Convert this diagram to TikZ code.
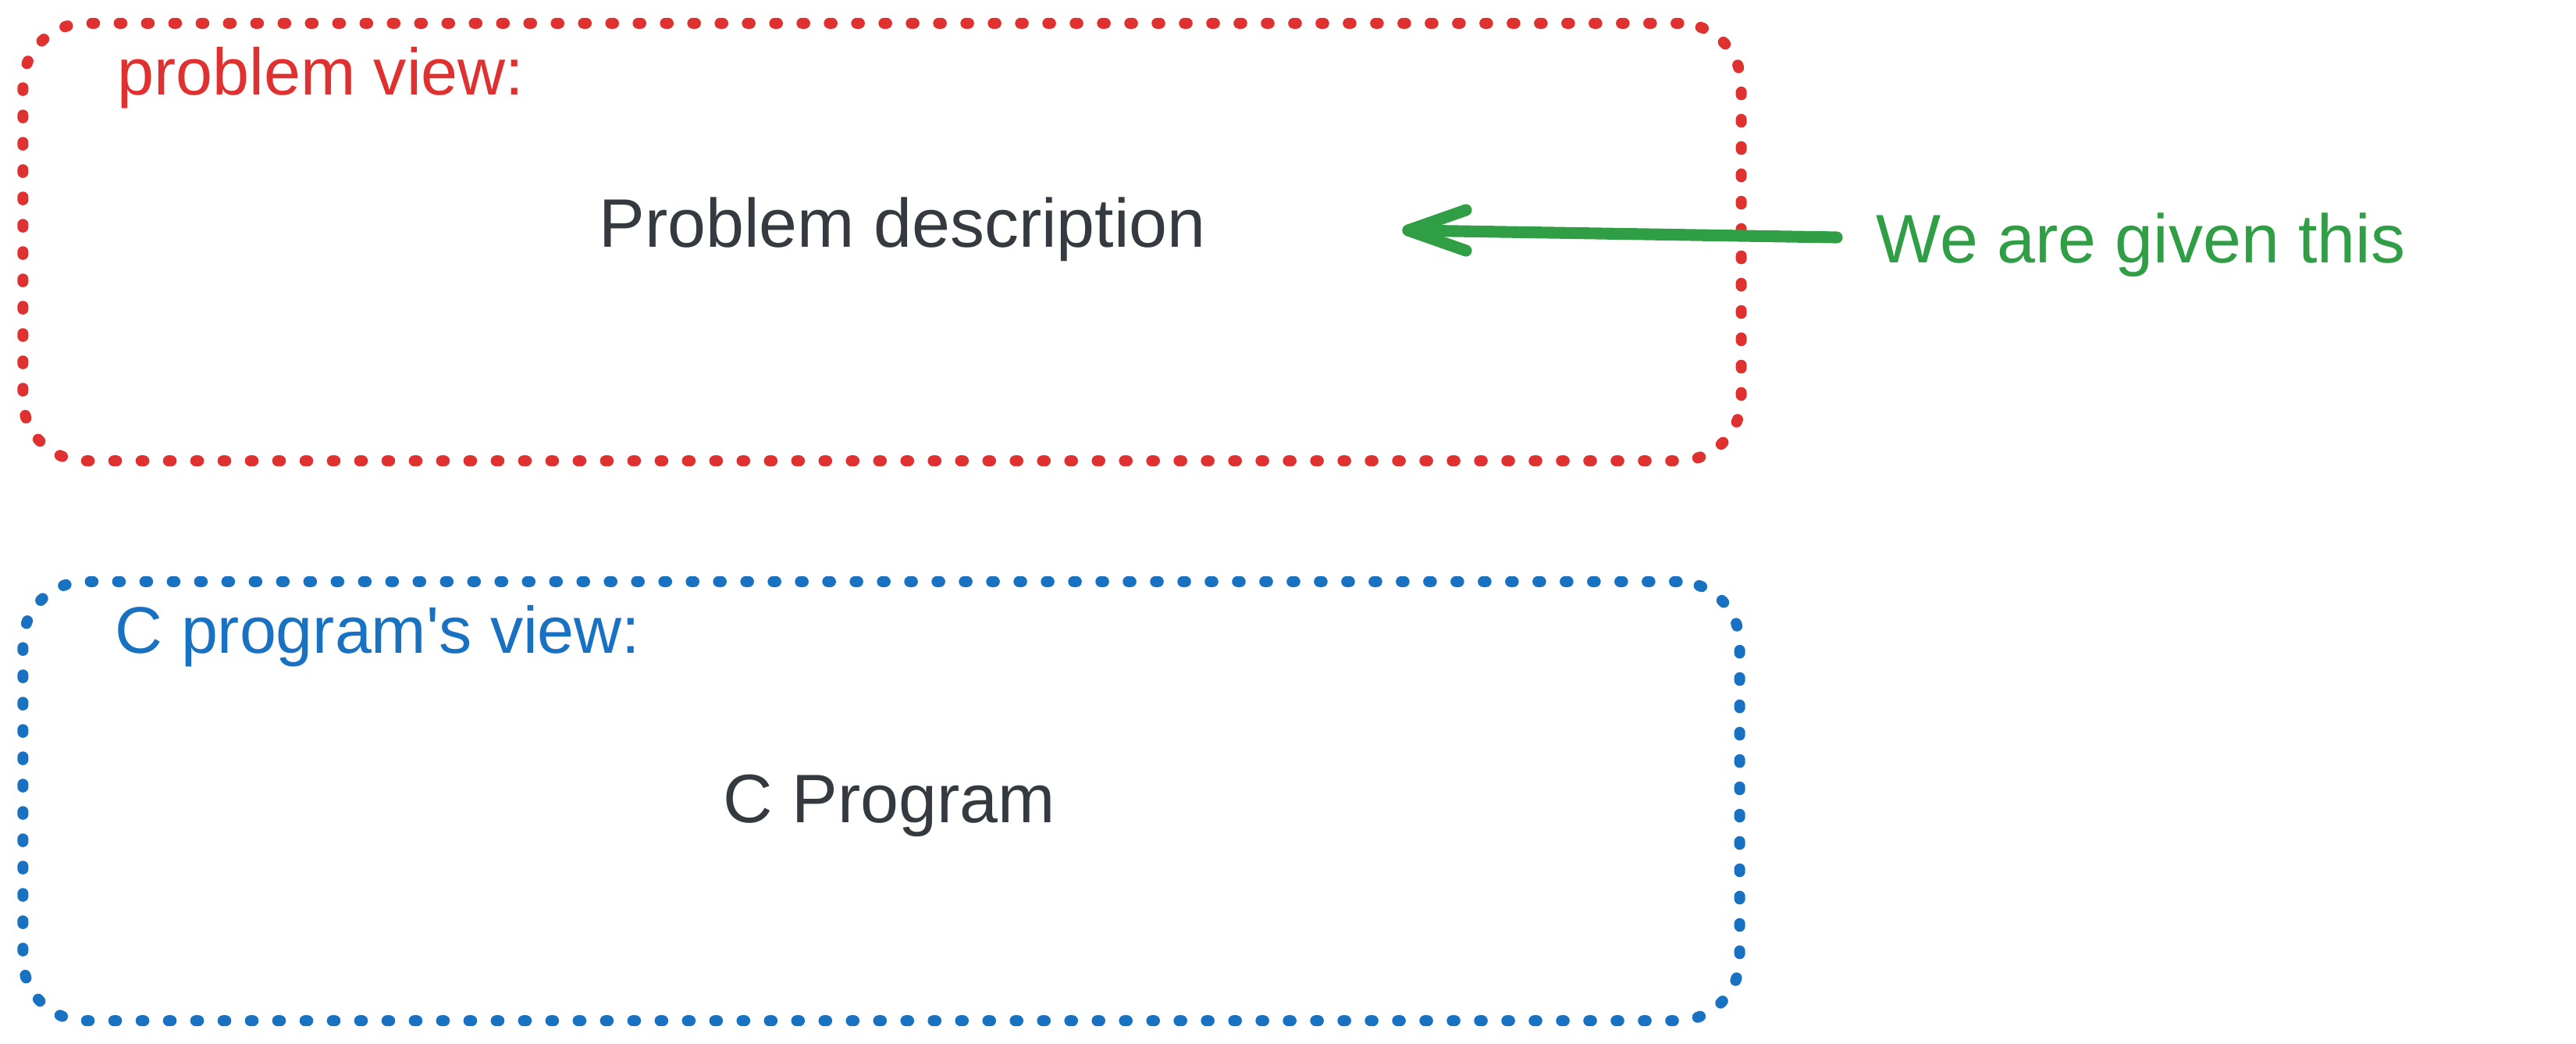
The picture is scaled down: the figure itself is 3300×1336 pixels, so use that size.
\documentclass[tikz,border=0pt]{standalone}
\usepackage{fontspec}
\setmainfont{Liberation Sans}
\definecolor{exred}{HTML}{E03131}
\definecolor{exblue}{HTML}{1971C2}
\definecolor{exgreen}{HTML}{2F9E44}
\definecolor{exdark}{HTML}{343A40}
\begin{document}
\begin{tikzpicture}[x=0.01cm,y=-0.01cm,
  frame/.style={draw, rectangle, line width=4pt, line cap=round,
    dash pattern=on 1pt off 8.95pt, rounded corners=0.8cm, inner sep=0pt},
  lbl/.style={inner sep=0pt, anchor=base west, font=\fontsize{25}{30}\selectfont},
  hdr/.style={lbl, font=\fontsize{24}{29}\selectfont},
  garrow/.style={draw=exgreen, line width=4.3pt, line cap=round, line join=round}]
\useasboundingbox (0,0) rectangle (3300,1336);
% boxes
\node[frame, draw=exred, minimum width=22cm, minimum height=5.6cm] (probbox) at (1130,310) {};
\node[frame, draw=exblue, minimum width=21.98cm, minimum height=5.62cm] (progbox) at (1129,1026) {};
% texts
\node[hdr, text=exred] (plabel) at (150,121) {problem view:};
\node[lbl, text=exdark] (pdesc) at (767,316) {Problem description};
\node[lbl, text=exgreen] (given) at (2403,336) {We are given this};
\node[hdr, text=exblue] (clabel) at (147,836) {C program\textquotesingle s view:};
\node[lbl, text=exdark] (cprog) at (926,1053) {C Program};
% arrow
\coordinate (tail) at (2353,304);
\coordinate (tip) at (1804,295);
\draw[garrow] (tail) -- (tip);
\draw[garrow] (tip) ++(74,-26) -- (tip) -- ++(74,26);
\end{tikzpicture}
\end{document}
